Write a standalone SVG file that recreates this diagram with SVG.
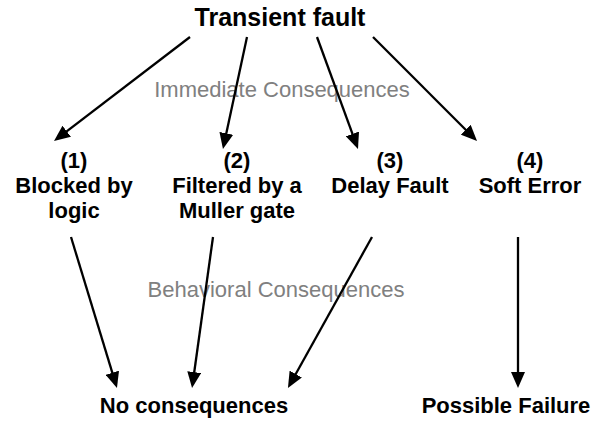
<svg xmlns="http://www.w3.org/2000/svg" width="600" height="422" viewBox="0 0 600 422">
<style>
.t{font-family:"Liberation Sans",Arial,sans-serif;font-weight:bold;font-size:22px;fill:#000;text-anchor:middle}
.h{font-size:25px}
.g{font-family:"Liberation Sans",Arial,sans-serif;font-size:22px;fill:#808080;text-anchor:middle}
.c{stroke:#000;stroke-width:2.3;fill:none;marker-end:url(#ah)}
</style>
<defs>
<marker id="ah" viewBox="0 0 16 14" refX="12" refY="7" markerWidth="16" markerHeight="14" orient="auto" markerUnits="userSpaceOnUse">
<path d="M0,0 L16,7 L0,14 Z" fill="#000"/>
</marker>
</defs>
<rect width="600" height="422" fill="#fff"/>
<text class="g" x="282" y="97">Immediate Consequences</text>
<text class="g" x="276" y="297">Behavioral Consequences</text>
<g id="connectors">
<line class="c" x1="190" y1="37" x2="57.2" y2="138.6"/>
<line class="c" x1="247" y1="37" x2="223.8" y2="145.1"/>
<line class="c" x1="317" y1="37" x2="356.6" y2="145.2"/>
<line class="c" x1="373" y1="37" x2="474.2" y2="138.2"/>
<line class="c" x1="71" y1="237" x2="115.8" y2="384.2"/>
<line class="c" x1="213" y1="237" x2="192.6" y2="384"/>
<line class="c" x1="372" y1="237" x2="289.9" y2="384.5"/>
<line class="c" x1="518" y1="237" x2="518" y2="384"/>
</g>
<g id="transient"><text class="t h" x="280" y="26">Transient fault</text></g>
<g id="n1"><text class="t" x="74" y="168">(1)</text><text class="t" x="74" y="193">Blocked by</text><text class="t" x="74" y="218">logic</text></g>
<g id="n2"><text class="t" x="237" y="168">(2)</text><text class="t" x="237" y="193">Filtered by a</text><text class="t" x="237" y="218">Muller gate</text></g>
<g id="n3"><text class="t" x="390" y="168">(3)</text><text class="t" x="390" y="193">Delay Fault</text></g>
<g id="n4"><text class="t" x="530" y="168">(4)</text><text class="t" x="530" y="193">Soft Error</text></g>
<g id="none"><text class="t" x="194" y="413">No consequences</text></g>
<g id="failure"><text class="t" x="506" y="413">Possible Failure</text></g>
</svg>
